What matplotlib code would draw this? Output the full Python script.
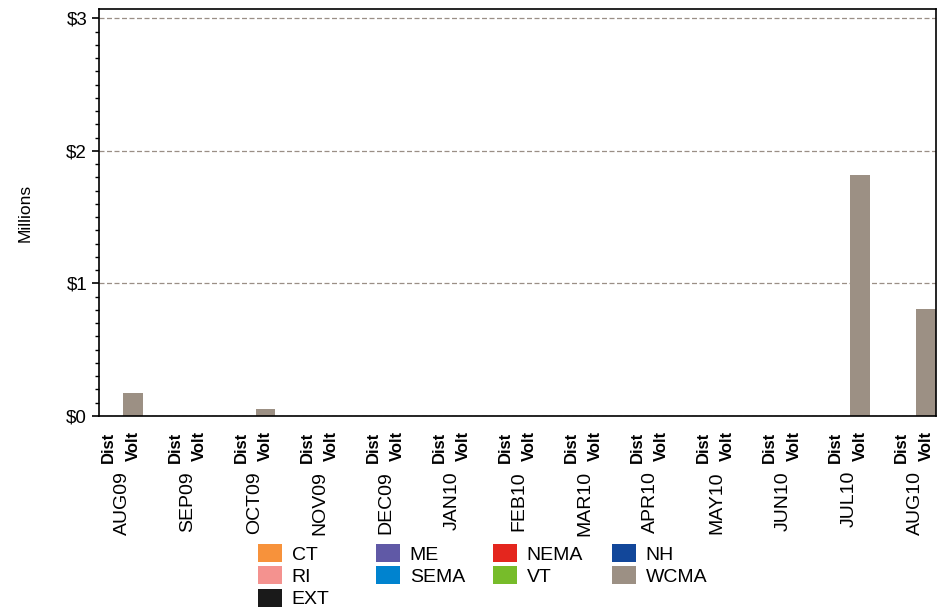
import numpy as np
import matplotlib.pyplot as plt
from matplotlib.transforms import blended_transform_factory

plt.rcParams['font.family'] = ['Liberation Sans', 'DejaVu Sans']

months = ['AUG09', 'SEP09', 'OCT09', 'NOV09', 'DEC09', 'JAN10', 'FEB10',
          'MAR10', 'APR10', 'MAY10', 'JUN10', 'JUL10', 'AUG10']
kinds = ['Dist', 'Volt']
regions = ['CT', 'RI', 'EXT', 'ME', 'SEMA', 'NEMA', 'VT', 'NH', 'WCMA']
colors = ['#f7923b', '#f4928f', '#1a1a1a', '#6059a6', '#0083cf',
          '#e4261e', '#77bc2a', '#12479a', '#9c9084']

# values in $ millions, only WCMA has non-zero volt values
zeros = [0.0] * 13
dist_vals = {r: zeros for r in regions}
volt_vals = {r: zeros for r in regions}
volt_vals['WCMA'] = [0.173, 0.0, 0.053, 0.0, 0.0, 0.0, 0.0,
                     0.0, 0.0, 0.0, 0.0, 1.82, 0.81]

fig = plt.figure(figsize=(9.42, 6.13), dpi=100)
ax = fig.add_axes([0.105, 0.3214, 0.8886, 0.6636])

x = np.arange(len(months)) * 3
w = 0.87
for k, vals in enumerate([dist_vals, volt_vals]):
    bottom = np.zeros(len(months))
    for r, c in zip(regions, colors):
        v = np.array(vals[r])
        ax.bar(x + k, v, w, bottom=bottom, color=c, label=r if k == 0 else None)
        bottom += v

ax.set_xlim(-0.55, x[-1] + 1.45)
ax.set_ylim(0, 3.07)
ax.set_yticks([0, 1, 2, 3])
ax.set_yticklabels(['$0', '$1', '$2', '$3'], fontsize=13.5)
ax.set_yticks(np.arange(0, 3.01, 0.1), minor=True)
ax.tick_params(axis='y', which='major', length=5, width=1.2, direction='out')
ax.tick_params(axis='y', which='minor', length=3, width=1, direction='out')
ax.yaxis.grid(True, which='major', linestyle=(0, (4, 2)), color='#9a8f86', linewidth=0.9)
ax.set_axisbelow(True)

ticks = np.concatenate([x - 0.1, x + 1])
labels = ['Dist'] * len(x) + ['Volt'] * len(x)
ax.set_xticks(ticks)
ax.set_xticklabels(labels, rotation=90, fontweight='bold', fontsize=12)
ax.tick_params(axis='x', length=0, pad=11)

trans = blended_transform_factory(ax.transData, fig.transFigure)
for xi, m in zip(x, months):
    ax.text(xi + 0.5, 1 - 471 / 613, m, rotation=90, ha='center', va='top',
            fontsize=14, transform=trans)

ax.set_ylabel('Millions', fontsize=12.5, labelpad=24)

for s in ax.spines.values():
    s.set_linewidth(1.2)

# legend: four fixed-pitch columns
handles, names = ax.get_legend_handles_labels()
groups = [(0, 3), (3, 5), (5, 7), (7, 9)]
col_x = [258, 376, 493, 612]
for (a, b), cx in zip(groups, col_x):
    lg = fig.legend(handles[a:b], names[a:b], loc='upper left',
                    bbox_to_anchor=(cx / 942, 1 - 544 / 613), frameon=False,
                    fontsize=14, handlelength=1.24, handleheight=1.03,
                    labelspacing=0.15, handletextpad=0.5,
                    borderpad=0, borderaxespad=0)

fig.savefig('out.png', dpi=100)
